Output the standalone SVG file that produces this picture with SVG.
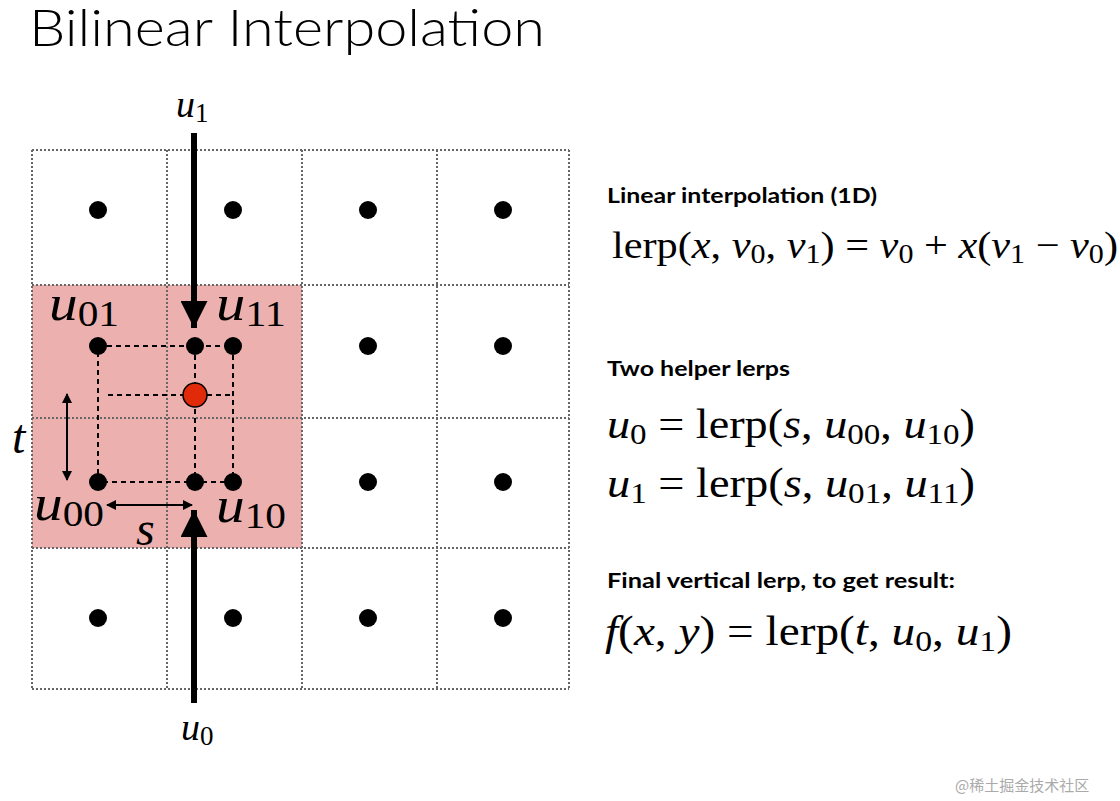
<svg xmlns="http://www.w3.org/2000/svg" width="1120" height="801" viewBox="0 0 1120 801">
<defs>
<style>
.title{font-family:Lato,"Open Sans",sans-serif;font-weight:300;font-size:51px;fill:#000}
.head{font-family:Lato,"Open Sans",sans-serif;font-weight:700;font-size:20px;fill:#000}
.m{font-family:"Liberation Serif","DejaVu Serif",serif;fill:#000}
.i{font-style:italic}
.grid{fill:none;stroke:#666;stroke-width:2;stroke-dasharray:2 2}
.dot{fill:#000}
.dash{fill:none;stroke:#000;stroke-width:2;stroke-dasharray:5 4}
.thin{stroke:#000;stroke-width:2;fill:none}
.thick{stroke:#000;stroke-width:6;fill:none}
</style>
<marker id="ah" viewBox="0 0 10 10" refX="9" refY="5" markerWidth="10" markerHeight="10" markerUnits="userSpaceOnUse" orient="auto-start-reverse"><path d="M0,0 L10,5 L0,10 z" fill="#000"/></marker>
<marker id="big" viewBox="0 0 10 10" refX="10" refY="5" markerWidth="4.5" markerHeight="4.5" orient="auto"><path d="M0,0 L10,5 L0,10 z" fill="#000"/></marker>
</defs>
<rect width="1120" height="801" fill="#fff"/>
<text class="title" x="29" y="46" textLength="516" lengthAdjust="spacingAndGlyphs">Bilinear Interpolation</text>

<g id="grid">
<rect x="32" y="285" width="270" height="263" fill="#ecb1af"/>
<path class="grid" d="M32,150H569M32,285H569M32,418H569M32,548H569M32,689H569M32,150V689M167,150V689M302,150V689M437,150V689M569,150V689"/>
</g>
<g id="samples">
<circle class="dot" cx="98" cy="210" r="9"/><circle class="dot" cx="233" cy="210" r="9"/><circle class="dot" cx="368" cy="210" r="9"/><circle class="dot" cx="503" cy="210" r="9"/>
<circle class="dot" cx="368" cy="346" r="9"/><circle class="dot" cx="503" cy="346" r="9"/>
<circle class="dot" cx="368" cy="482" r="9"/><circle class="dot" cx="503" cy="482" r="9"/>
<circle class="dot" cx="98" cy="618" r="9"/><circle class="dot" cx="233" cy="618" r="9"/><circle class="dot" cx="368" cy="618" r="9"/><circle class="dot" cx="503" cy="618" r="9"/>
</g>
<g id="connectors">
<path class="dash" d="M98,346H233V482H98Z M195,346V482 M108,395H233"/>
<path class="thick" d="M194,133V328" marker-end="url(#big)"/>
<path class="thick" d="M194,703V510" marker-end="url(#big)"/>
<path class="thin" d="M67,394V480" marker-start="url(#ah)" marker-end="url(#ah)"/>
<path class="thin" d="M107,505H192" marker-start="url(#ah)" marker-end="url(#ah)"/>
</g>
<g id="u01"><circle class="dot" cx="98" cy="346" r="9"/><text class="m i" x="49" y="320" font-size="50" textLength="70" lengthAdjust="spacingAndGlyphs">u<tspan font-style="normal" font-size="36" dy="6">01</tspan></text></g>
<g id="u11"><circle class="dot" cx="233" cy="346" r="9"/><circle class="dot" cx="195" cy="346" r="9"/><text class="m i" x="216" y="320" font-size="50" textLength="70" lengthAdjust="spacingAndGlyphs">u<tspan font-style="normal" font-size="36" dy="6">11</tspan></text></g>
<g id="u00"><circle class="dot" cx="98" cy="482" r="9"/><text class="m i" x="34" y="520" font-size="50" textLength="70" lengthAdjust="spacingAndGlyphs">u<tspan font-style="normal" font-size="36" dy="6">00</tspan></text></g>
<g id="u10"><circle class="dot" cx="233" cy="482" r="9"/><circle class="dot" cx="195" cy="482" r="9"/><text class="m i" x="216" y="522" font-size="50" textLength="70" lengthAdjust="spacingAndGlyphs">u<tspan font-style="normal" font-size="36" dy="6">10</tspan></text></g>
<g id="result"><circle cx="195" cy="395" r="12" fill="#e02a0a" stroke="#000" stroke-width="1.5"/></g>
<text class="m i" x="12" y="453" font-size="48">t</text>
<text class="m i" x="136" y="545" font-size="48">s</text>
<text class="m i" x="176" y="117" font-size="38">u<tspan font-style="normal" font-size="27" dy="5">1</tspan></text>
<text class="m i" x="181" y="740" font-size="38">u<tspan font-style="normal" font-size="27" dy="5">0</tspan></text>

<text class="head" x="607" y="203" textLength="270" lengthAdjust="spacingAndGlyphs">Linear interpolation (1D)</text>
<text class="m" x="612" y="258" font-size="38" textLength="506" lengthAdjust="spacingAndGlyphs">lerp(<tspan class="i">x</tspan>, <tspan class="i">v</tspan><tspan font-size="27" dy="5">0</tspan><tspan dy="-5">, </tspan><tspan class="i">v</tspan><tspan font-size="27" dy="5">1</tspan><tspan dy="-5">) = </tspan><tspan class="i">v</tspan><tspan font-size="27" dy="5">0</tspan><tspan dy="-5"> + </tspan><tspan class="i">x</tspan>(<tspan class="i">v</tspan><tspan font-size="27" dy="5">1</tspan><tspan dy="-5"> − </tspan><tspan class="i">v</tspan><tspan font-size="27" dy="5">0</tspan><tspan dy="-5">)</tspan></text>

<text class="head" x="607" y="376" textLength="183" lengthAdjust="spacingAndGlyphs">Two helper lerps</text>
<text class="m" x="607" y="438" font-size="42" textLength="368" lengthAdjust="spacingAndGlyphs"><tspan class="i">u</tspan><tspan font-size="30" dy="6">0</tspan><tspan dy="-6"> = lerp(</tspan><tspan class="i">s</tspan>, <tspan class="i">u</tspan><tspan font-size="30" dy="6">00</tspan><tspan dy="-6">, </tspan><tspan class="i">u</tspan><tspan font-size="30" dy="6">10</tspan><tspan dy="-6">)</tspan></text>
<text class="m" x="607" y="497" font-size="42" textLength="368" lengthAdjust="spacingAndGlyphs"><tspan class="i">u</tspan><tspan font-size="30" dy="6">1</tspan><tspan dy="-6"> = lerp(</tspan><tspan class="i">s</tspan>, <tspan class="i">u</tspan><tspan font-size="30" dy="6">01</tspan><tspan dy="-6">, </tspan><tspan class="i">u</tspan><tspan font-size="30" dy="6">11</tspan><tspan dy="-6">)</tspan></text>

<text class="head" x="607" y="588" textLength="348" lengthAdjust="spacingAndGlyphs">Final vertical lerp, to get result:</text>
<text class="m" x="605" y="645" font-size="42" textLength="407" lengthAdjust="spacingAndGlyphs"><tspan class="i">f</tspan>(<tspan class="i">x</tspan>, <tspan class="i">y</tspan>) = lerp(<tspan class="i">t</tspan>, <tspan class="i">u</tspan><tspan font-size="30" dy="6">0</tspan><tspan dy="-6">, </tspan><tspan class="i">u</tspan><tspan font-size="30" dy="6">1</tspan><tspan dy="-6">)</tspan></text>

<text x="955" y="791" font-family="'Noto Sans CJK SC',sans-serif" font-size="15" fill="#aaa">@稀土掘金技术社区</text>
</svg>
